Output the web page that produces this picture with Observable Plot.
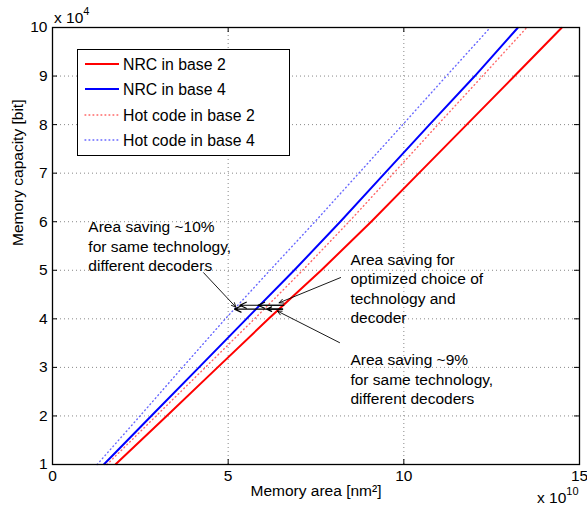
<!DOCTYPE html>
<html>
<head>
<meta charset="utf-8">
<script src="https://cdn.jsdelivr.net/npm/d3@7"></script>
<script src="https://cdn.jsdelivr.net/npm/@observablehq/plot@0.6"></script>
<style>
  html, body { margin: 0; padding: 0; background: #fff; }
  svg { display: block; }
</style>
</head>
<body>
<div id="chart"></div>
<script>
// ---- data (x in units of 1e10 nm^2, y in units of 1e4 bit) ----
const capacity   = [1, 2, 3, 4, 5, 6, 7, 8, 9, 10];
const nrcBase2   = [1.79, 3.25, 4.70, 6.15, 7.65, 9.07, 10.43, 11.79, 13.15, 14.50];
const nrcBase4   = [1.46, 2.81, 4.17, 5.52, 6.88, 8.19, 9.46, 10.73, 12.02, 13.25];
const hotBase2   = [1.55, 2.95, 4.35, 5.75, 7.12, 8.44, 9.71, 10.97, 12.24, 13.50];
const hotBase4   = [1.27, 2.49, 3.70, 4.92, 6.19, 7.47, 8.72, 9.97, 11.21, 12.46];
const seriesNames = ["NRC in base 2", "NRC in base 4", "Hot code in base 2", "Hot code in base 4"];

const xTicks = [0, 5, 10, 15];
const yTicks = [1, 2, 3, 4, 5, 6, 7, 8, 9, 10];
const xGrid = [5, 10];
const yGrid = [2, 3, 4, 5, 6, 7, 8, 9];

// horizontal saving arrows (start x, tip x, y)
const saveX1 = [6.58, 6.58, 6.55, 6.55];
const saveX2 = [5.33, 5.85, 5.18, 6.10];
const saveY  = [4.28, 4.28, 4.20, 4.20];

// annotation leader arrows
const leadX1 = [4.30, 8.20, 8.17];
const leadY1 = [4.95, 4.85, 3.51];
const leadX2 = [5.22, 6.45, 6.40];
const leadY2 = [4.24, 4.33, 4.16];

// annotation texts
const noteText = [
  "Area saving ~10%\nfor same technology,\ndifferent decoders",
  "Area saving for\noptimized choice of\ntechnology and\ndecoder",
  "Area saving ~9%\nfor same technology,\ndifferent decoders"
];
const noteX = [1.02, 8.48, 8.48];
const noteY = [5.51, 4.64, 2.77];

// ---- build tables ----
const styles = [
  {stroke: "#ff0000", width: 2, dash: null, opacity: 1},
  {stroke: "#0000ff", width: 2, dash: null, opacity: 1},
  {stroke: "#ff0000", width: 1.4, dash: "0.8,3.2", opacity: 0.6},
  {stroke: "#0000ff", width: 1.4, dash: "0.8,3.2", opacity: 0.6}
];
const seriesValues = [nrcBase2, nrcBase4, hotBase2, hotBase4];
const rows = seriesValues.map(vals => capacity.map((c, i) => ({x: vals[i], y: c})));
const saves = saveX1.map((d, i) => ({x1: d, x2: saveX2[i], y: saveY[i]}));
const leads = leadX1.map((d, i) => ({x1: d, y1: leadY1[i], x2: leadX2[i], y2: leadY2[i]}));
const notes = noteText.map((t, i) => ({t, x: noteX[i], y: noteY[i]}));

const FONT = "'Liberation Sans', Arial, Helvetica, sans-serif";
const FS = 15.5;

const lineMarks = rows.map((r, i) => Plot.line(r, {
  x: "x", y: "y",
  stroke: styles[i].stroke,
  strokeWidth: styles[i].width,
  strokeDasharray: styles[i].dash,
  strokeOpacity: styles[i].opacity,
  strokeLinecap: styles[i].dash ? "round" : "butt"
}));

const innerH = 510 - 27 - 46;
const innerW = 587 - 52 - 8;

const chart = Plot.plot({
  width: 587,
  height: 510,
  marginLeft: 52,
  marginRight: 8,
  marginTop: 27,
  marginBottom: 46,
  style: {fontFamily: FONT, fontSize: FS + "px", color: "#000", background: "#fff"},
  x: {domain: [0, 15]},
  y: {domain: [1, 10]},
  marks: [
    Plot.ruleX(xGrid, {stroke: "#888", strokeWidth: 1, strokeDasharray: "1,3"}),
    Plot.ruleY(yGrid, {stroke: "#888", strokeWidth: 1, strokeDasharray: "1,3"}),
    ...lineMarks,
    Plot.arrow(saves, {x1: "x1", x2: "x2", y1: "y", y2: "y", stroke: "#000", strokeWidth: 1.2, headLength: 9, headAngle: 50}),
    Plot.arrow(leads, {x1: "x1", y1: "y1", x2: "x2", y2: "y2", stroke: "#000", strokeWidth: 0.9, headLength: 8, headAngle: 50}),
    Plot.text(notes, {x: "x", y: "y", text: "t", textAnchor: "start", lineAnchor: "middle", lineHeight: 1.25, fontSize: FS, fill: "#000"}),
    // inward tick marks on all four sides
    Plot.tickX(xTicks, {x: d => d, insetTop: innerH - 5, stroke: "#000"}),
    Plot.tickX(xTicks, {x: d => d, insetBottom: innerH - 5, stroke: "#000"}),
    Plot.tickY(yTicks, {y: d => d, insetRight: innerW - 5, stroke: "#000"}),
    Plot.tickY(yTicks, {y: d => d, insetLeft: innerW - 5, stroke: "#000"}),
    Plot.axisX(xTicks, {tickSize: 0, tickPadding: 5, tickFormat: d => String(d), label: null, fontSize: FS}),
    Plot.axisY(yTicks, {tickSize: 0, tickPadding: 5, tickFormat: d => String(d), label: null, fontSize: FS}),
    Plot.text(["Memory area [nm²]"], {frameAnchor: "bottom", text: d => d, dy: 31, fontSize: FS}),
    Plot.text(["Memory capacity [bit]"], {frameAnchor: "left", text: d => d, dx: -34, rotate: -90, fontSize: FS}),
    Plot.frame({stroke: "#000", strokeWidth: 1.3})
  ]
});

document.getElementById("chart").appendChild(chart);

// ---- exponent labels and legend ----
const svg = d3.select(chart);

function expLabel(x, y, base, exp) {
  const t = svg.append("text").attr("x", x).attr("y", y).attr("text-anchor", "start")
    .attr("font-family", FONT).attr("font-size", FS).attr("fill", "#000");
  t.append("tspan").text(base);
  t.append("tspan").attr("dy", -8).attr("font-size", 11).text(exp);
}
expLabel(54, 23, "x 10", "4");
expLabel(537, 503, "x 10", "10");

const lg = svg.append("g");
lg.append("rect").attr("x", 77.5).attr("y", 49.5).attr("width", 212).attr("height", 106)
  .attr("fill", "#fff").attr("stroke", "#000").attr("stroke-width", 1);
const entryY = [64, 89, 115, 140];
seriesNames.forEach((name, i) => {
  const s = styles[i];
  lg.append("line").attr("x1", 85).attr("x2", 119).attr("y1", entryY[i]).attr("y2", entryY[i])
    .attr("stroke", s.stroke).attr("stroke-width", s.width)
    .attr("stroke-dasharray", s.dash).attr("stroke-opacity", s.opacity)
    .attr("stroke-linecap", s.dash ? "round" : "butt");
  lg.append("text").attr("x", 123).attr("y", entryY[i]).attr("dy", "0.35em").attr("text-anchor", "start")
    .attr("font-family", FONT).attr("font-size", 15.8).attr("fill", "#000").text(name);
});
</script>
</body>
</html>
